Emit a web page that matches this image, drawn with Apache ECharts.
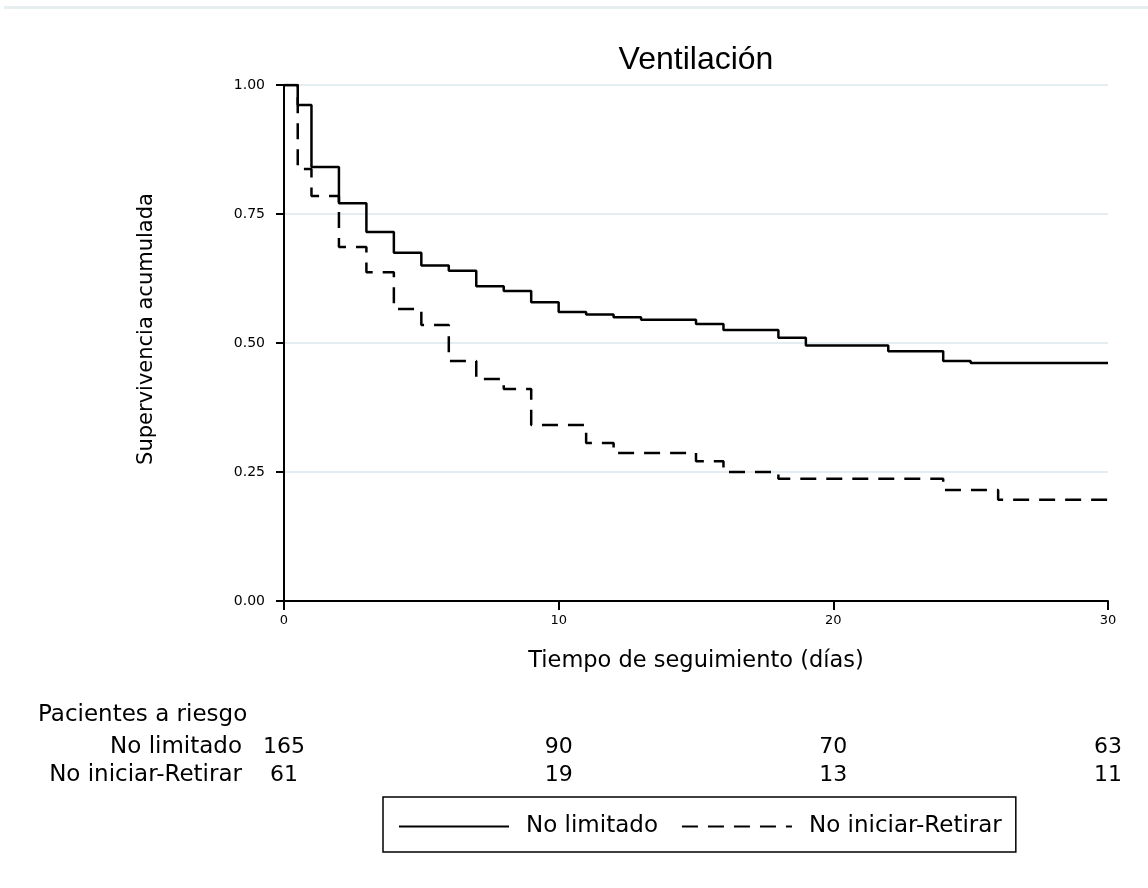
<!DOCTYPE html>
<html>
<head>
<meta charset="utf-8">
<script src="https://cdn.jsdelivr.net/npm/echarts@6/dist/echarts.min.js"></script>
<style>html,body{margin:0;padding:0;background:#fff;}#c{width:1148px;height:888px;}</style>
</head>
<body>
<div id="c"></div>
<script>
// Kaplan-Meier step data (days, cumulative survival)
var timesNoLimitado = [0, 0.5, 1, 2, 3, 4, 5, 6, 7, 8, 9, 10, 11, 12, 13, 15, 16, 18, 19, 22, 24, 25, 30];
var survNoLimitado  = [1.0, 0.961, 0.841, 0.771, 0.715, 0.675, 0.650, 0.640, 0.610, 0.601, 0.579, 0.560, 0.555, 0.550, 0.545, 0.537, 0.525, 0.510, 0.495, 0.484, 0.465, 0.461, 0.461];
var timesNoIniciar  = [0, 0.5, 1, 2, 3, 4, 5, 6, 7, 8, 9, 11, 12, 15, 16, 18, 24, 26, 30];
var survNoIniciar   = [1.0, 0.837, 0.785, 0.686, 0.637, 0.566, 0.535, 0.465, 0.430, 0.411, 0.341, 0.306, 0.287, 0.271, 0.250, 0.237, 0.215, 0.196, 0.196];
var seriesNames = ['No limitado', 'No iniciar-Retirar'];
// Patients at risk table
var riskTimes = [0, 10, 20, 30];
var riskNoLimitado = [165, 90, 70, 63];
var riskNoIniciar = [61, 19, 13, 11];

function zip(t, s) { return t.map(function (v, i) { return [v, s[i]]; }); }
var riskData = [];
riskTimes.forEach(function (t, i) {
  riskData.push([t, seriesNames[0], riskNoLimitado[i]]);
  riskData.push([t, seriesNames[1], riskNoIniciar[i]]);
});

var FONT = 'Liberation Sans, Arial, sans-serif';
var WIDE = 'DejaVu Sans, sans-serif';
var chart = echarts.init(document.getElementById('c'), null, {renderer: 'canvas'});
chart.setOption({
  backgroundColor: '#ffffff',
  animation: false,
  title: [
    {text: 'Ventilación', left: 691, top: 39, textAlign: 'center',
     textStyle: {fontFamily: FONT, fontSize: 32, fontWeight: 'normal', color: '#000'}},
    {text: 'Pacientes a riesgo', left: 33, top: 699,
     textStyle: {fontFamily: WIDE, fontSize: 23, fontWeight: 'normal', color: '#000'}}
  ],
  graphic: [
    {type: 'rect', shape: {x: 4, y: 6, width: 1144, height: 3}, style: {fill: '#e6eef0'}, silent: true}
  ],
  legend: {
    data: seriesNames,
    left: 383, top: 797,
    orient: 'horizontal',
    itemWidth: 110, itemHeight: 14, itemGap: 23,
    padding: [18, 14, 14, 15],
    borderColor: '#000', borderWidth: 1.5, borderRadius: 0,
    itemStyle: {opacity: 0},
    textStyle: {fontFamily: WIDE, fontSize: 23, color: '#000', padding: [0, 0, 0, 12]}
  },
  grid: [
    {left: 284, right: 40, top: 85, bottom: 287},
    {left: 284, right: 40, top: 733, height: 56}
  ],
  xAxis: [
    {type: 'value', gridIndex: 0, min: 0, max: 30, interval: 10,
     name: 'Tiempo de seguimiento (días)', nameLocation: 'middle', nameGap: 49,
     nameTextStyle: {fontFamily: WIDE, fontSize: 22.5, color: '#000'},
     axisLine: {show: true, onZero: false, lineStyle: {color: '#000', width: 2}},
     axisTick: {show: true, length: 9, lineStyle: {color: '#000', width: 2}},
     axisLabel: {fontFamily: WIDE, fontSize: 13, color: '#000', margin: 13},
     splitLine: {show: false}},
    {type: 'value', gridIndex: 1, min: 0, max: 30, show: false}
  ],
  yAxis: [
    {type: 'value', gridIndex: 0, min: 0, max: 1, interval: 0.25,
     name: 'Supervivencia acumulada', nameLocation: 'middle', nameGap: 127,
     nameTextStyle: {fontFamily: WIDE, fontSize: 21, color: '#000', padding: [0, 0, 0, 28]},
     axisLine: {show: true, lineStyle: {color: '#000', width: 2}},
     axisTick: {show: true, length: 8, lineStyle: {color: '#000', width: 2}},
     axisLabel: {fontFamily: WIDE, fontSize: 14, color: '#000', margin: 19,
                 formatter: function (v) { return v.toFixed(2); }},
     splitLine: {show: true, lineStyle: {color: '#e4edf1', width: 2}},
     splitArea: {show: false}},
    {type: 'category', gridIndex: 1, data: seriesNames, inverse: true,
     axisLine: {show: false}, axisTick: {show: false}, splitLine: {show: false},
     axisLabel: {fontFamily: WIDE, fontSize: 23, color: '#000', margin: 42, interval: 0, hideOverlap: false}}
  ],
  series: [
    {name: seriesNames[0], type: 'line', xAxisIndex: 0, yAxisIndex: 0, step: 'end',
     symbol: 'none', data: zip(timesNoLimitado, survNoLimitado),
     lineStyle: {color: '#000', width: 2.5, type: 'solid'}, itemStyle: {color: '#000'}},
    {name: seriesNames[1], type: 'line', xAxisIndex: 0, yAxisIndex: 0, step: 'end',
     symbol: 'none', data: zip(timesNoIniciar, survNoIniciar),
     lineStyle: {color: '#000', width: 2.5, type: [16, 10]}, itemStyle: {color: '#000'}},
    {type: 'scatter', xAxisIndex: 1, yAxisIndex: 1, data: riskData,
     symbolSize: 1, itemStyle: {color: '#ffffff'}, silent: true,
     label: {show: true, position: 'inside', fontFamily: WIDE, fontSize: 22, color: '#000',
             textBorderWidth: 0, opacity: 1,
             formatter: function (p) { return String(p.value[2]); }}}
  ]
});
</script>
</body>
</html>
